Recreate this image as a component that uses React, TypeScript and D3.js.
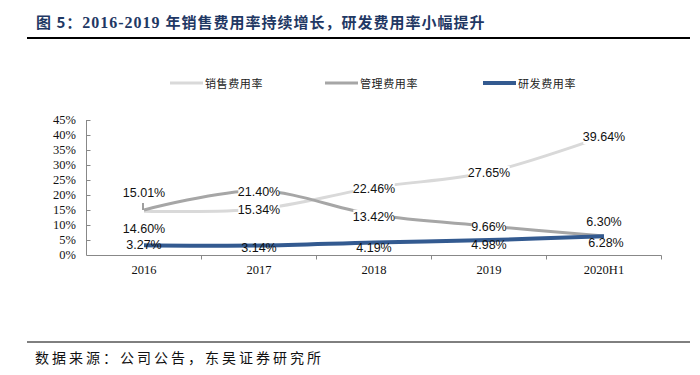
import React from "react";
import * as d3 from "d3";

const categories = ["2016", "2017", "2018", "2019", "2020H1"];
const salesRate = [14.6, 15.34, 22.46, 27.65, 39.64];
const adminRate = [15.01, 21.4, 13.42, 9.66, 6.3];
const rdRate = [3.27, 3.14, 4.19, 4.98, 6.28];
const yTicks = [0, 5, 10, 15, 20, 25, 30, 35, 40, 45];
const seriesNames = ["销售费用率", "管理费用率", "研发费用率"];
// label vertical offsets relative to point (px)
const salesLabelDy = [18, 1, 1, 1, 1];
const adminLabelDy = [-17, 1, 2, 1, -14];
const rdLabelDy = [0, 2, 6, 5, 7];

const W = 700;
const H = 375;

export default function App() {
  const x = d3.scaleBand().domain(categories).range([86.5, 661.5]);
  const y = d3.scaleLinear().domain([0, 45]).range([255, 120]);
  const cx = (c: string) => (x(c) as number) + x.bandwidth() / 2;

  const line = d3
    .line<number>()
    .x((_, i) => cx(categories[i]))
    .y((d) => y(d))
    .curve(d3.curveCardinal.tension(0));

  const colors = ["#D9D9D9", "#A6A6A6", "#335A90"];
  const widths = [3, 3, 4];
  const datasets = [salesRate, adminRate, rdRate];
  const dys = [salesLabelDy, adminLabelDy, rdLabelDy];

  const labelFont = "'Liberation Sans', Arial, sans-serif";
  const serif = "'Liberation Serif', 'Times New Roman', serif";
  const cjk = "'Noto Sans CJK SC', sans-serif";

  const legendX = [170, 325, 483];

  const renderLabels = (s: number, bg: boolean) =>
    datasets[s].map((v, i) => {
      const lx = cx(categories[i]) + (s === 2 && i === 4 ? 2 : 0);
      const ly = y(v) + dys[s][i];
      const txt = v.toFixed(2) + "%";
      const tw = txt.length * 6.9;
      return (
        <g key={`l${s}-${i}`}>
          {bg && (
            <rect x={lx - tw / 2} y={ly - 7} width={tw} height={14} fill="#fff" />
          )}
          <text
            x={lx}
            y={ly}
            textAnchor="middle"
            dominantBaseline="central"
            fontFamily={labelFont}
            fontSize={12.5}
            fill="#111"
          >
            {txt}
          </text>
        </g>
      );
    });

  return (
    <svg
      width={W}
      height={H}
      style={{ position: "absolute", left: 0, top: 0, background: "#fff" }}
    >
      {/* Title */}
      <text
        x={36}
        y={28}
        fontFamily={cjk}
        fontWeight="bold"
        fontSize={15}
        letterSpacing={1}
        fill="#1F3864"
      >
        图 5：
        <tspan fontFamily={serif} fontWeight="bold" fontSize={16}>
          2016-2019{" "}
        </tspan>
        年销售费用率持续增长，研发费用率小幅提升
      </text>
      <line x1={27} x2={690} y1={38} y2={38} stroke="#000" strokeWidth={2} />

      {/* Legend */}
      {seriesNames.map((n, i) => (
        <g key={n}>
          <line
            x1={legendX[i]}
            x2={legendX[i] + 33}
            y1={83}
            y2={83}
            stroke={colors[i]}
            strokeWidth={widths[i]}
          />
          <text
            x={legendX[i] + 35}
            y={83}
            dominantBaseline="central"
            fontFamily={cjk}
            fontSize={11}
            letterSpacing={0.6}
            fill="#222"
          >
            {n}
          </text>
        </g>
      ))}

      {/* Y axis */}
      <line x1={86.5} x2={86.5} y1={y(45)} y2={y(0)} stroke="#888" strokeWidth={1} />
      {yTicks.map((t) => (
        <g key={t}>
          <line x1={86.5} x2={90.5} y1={y(t) + 0.5} y2={y(t) + 0.5} stroke="#888" />
          <text
            x={76}
            y={y(t)}
            textAnchor="end"
            dominantBaseline="central"
            fontFamily={serif}
            fontSize={12.5}
            fill="#111"
          >
            {t}%
          </text>
        </g>
      ))}

      {/* X axis */}
      <line x1={86.5} x2={661.5} y1={255.5} y2={255.5} stroke="#888" />
      {categories.map((c, i) => (
        <g key={c}>
          {i > 0 && (
            <line
              x1={x(c) as number}
              x2={x(c) as number}
              y1={255.5}
              y2={259.5}
              stroke="#888"
            />
          )}
          <text
            x={cx(c)}
            y={270}
            textAnchor="middle"
            dominantBaseline="central"
            fontFamily={serif}
            fontSize={12.5}
            fill="#111"
          >
            {c}
          </text>
        </g>
      ))}
      <line x1={661.5} x2={661.5} y1={255.5} y2={259.5} stroke="#888" />

      {/* Gray series lines */}
      {[0, 1].map((s) => (
        <path
          key={`p${s}`}
          d={line(datasets[s]) || ""}
          fill="none"
          stroke={colors[s]}
          strokeWidth={widths[s]}
        />
      ))}
      {/* leader line at 2016 */}
      <line
        x1={cx(categories[0]) - 1}
        x2={cx(categories[0]) - 1}
        y1={y(adminRate[0]) - 7}
        y2={y(adminRate[0])}
        stroke="#7f7f7f"
        strokeWidth={1.5}
      />
      {renderLabels(0, true)}
      {renderLabels(1, true)}

      {/* R&D line */}
      <path d={line(rdRate) || ""} fill="none" stroke={colors[2]} strokeWidth={widths[2]} />
      {renderLabels(2, false)}

      {/* Footer */}
      <line x1={27} x2={690} y1={342} y2={342} stroke="#000" strokeWidth={1} />
      <text
        x={35}
        y={357}
        dominantBaseline="central"
        fontFamily={cjk}
        fontSize={14}
        letterSpacing={3}
        fill="#111"
      >
        数据来源：公司公告，东吴证券研究所
      </text>
    </svg>
  );
}
